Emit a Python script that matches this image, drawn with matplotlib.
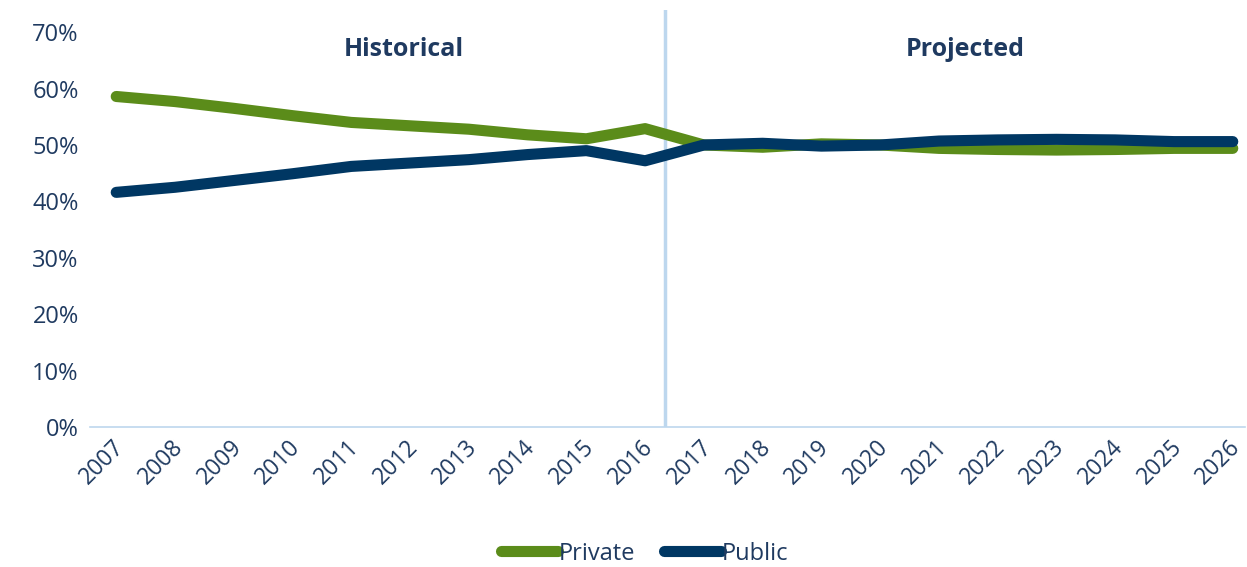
import numpy as np
import matplotlib.pyplot as plt
import matplotlib.transforms as mtransforms
from matplotlib.ticker import PercentFormatter

plt.rcParams['font.family'] = ['Open Sans', 'DejaVu Sans']

# Data
years = list(range(2007, 2027))
private = [58.6, 57.7, 56.5, 55.2, 54.0, 53.4, 52.8, 51.8, 51.1, 52.9,
           50.0, 49.6, 50.2, 50.0, 49.4, 49.2, 49.1, 49.2, 49.4, 49.4]
public = [41.6, 42.5, 43.7, 44.9, 46.2, 46.8, 47.4, 48.3, 49.0, 47.2,
          50.0, 50.3, 49.8, 50.0, 50.7, 50.9, 51.0, 50.9, 50.6, 50.6]
y_ticks = [0, 10, 20, 30, 40, 50, 60, 70]
divider_year = 2016.33

green = '#5B8C1A'
navy = '#003763'
text_col = '#1F3A60'

fig = plt.figure(figsize=(12.47, 5.67), dpi=100)
ax = fig.add_axes([0.072, 0.247, 0.926, 0.735])

ax.plot(years, private, color=green, lw=8, solid_capstyle='round', label='Private')
ax.plot(years, public, color=navy, lw=8, solid_capstyle='round', label='Public')
ax.axvline(divider_year, color='#BDD7EE', lw=2.5, zorder=0)

ax.set_ylim(0, 73.9)
ax.set_xlim(2006.55, 2026.2)
ax.set_yticks(y_ticks)
ax.yaxis.set_major_formatter(PercentFormatter(decimals=0))
ax.set_xticks(years)
ax.set_xticklabels([str(y) for y in years], rotation=45, ha='right',
                   rotation_mode='anchor')
ax.tick_params(axis='both', length=0, labelsize=17, colors=text_col)
ax.tick_params(axis='x', pad=6, labelsize=16.5)
ax.tick_params(axis='y', pad=8)

# nudge year labels a few pixels left so the last one stays inside
shift = mtransforms.ScaledTranslation(-4 / 100, 0, fig.dpi_scale_trans)
for lbl in ax.get_xticklabels():
    lbl.set_transform(lbl.get_transform() + shift)

for s in ['top', 'right', 'left']:
    ax.spines[s].set_visible(False)
ax.spines['bottom'].set_color('#BDD7EE')
ax.spines['bottom'].set_linewidth(1.2)

ax.text(2011.9, 67.0, 'Historical', ha='center', va='center', fontsize=18,
        fontweight='bold', color=text_col)
ax.text(2021.45, 67.0, 'Projected', ha='center', va='center', fontsize=18,
        fontweight='bold', color=text_col)

fig.legend(loc='lower center', bbox_to_anchor=(0.517, -0.035), ncol=2,
           frameon=False, fontsize=17, handlelength=2.4, handletextpad=0.05,
           columnspacing=1.2, labelcolor=text_col)

fig.savefig('out.png', dpi=100)
